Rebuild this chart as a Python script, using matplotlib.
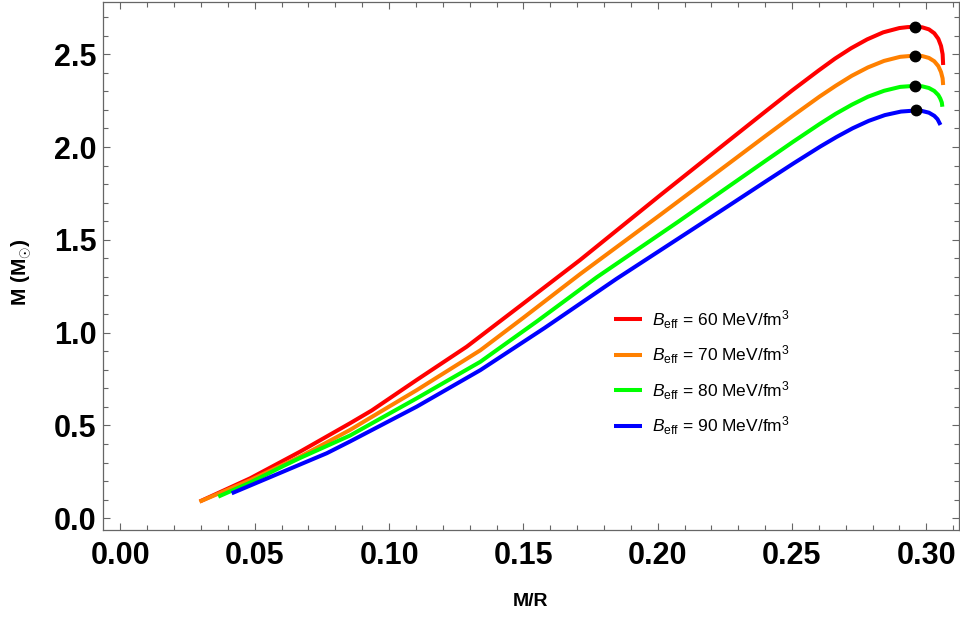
import matplotlib
matplotlib.use("Agg")
import matplotlib.pyplot as plt
from matplotlib.ticker import MultipleLocator, FormatStrFormatter

plt.rcParams['font.family'] = ['Liberation Sans', 'DejaVu Sans']
plt.rcParams['mathtext.fontset'] = 'custom'
plt.rcParams['mathtext.rm'] = 'Liberation Sans'
plt.rcParams['mathtext.it'] = 'Liberation Sans:italic'
plt.rcParams['mathtext.bf'] = 'Liberation Sans:bold'

# Datos (compacidad M/R, masa M)
c60 = [0.0295, 0.0483, 0.0668, 0.0854, 0.0935, 0.1103, 0.1289, 0.1500, 0.1711, 0.2011,
       0.2260, 0.2400, 0.2500, 0.2600, 0.2660, 0.2720, 0.2780, 0.2840, 0.2900, 0.2930, 0.2957,
       0.2985, 0.3010, 0.3030, 0.3045, 0.3055, 0.3061, 0.3063]
m60 = [0.090, 0.215, 0.358, 0.511, 0.580, 0.745, 0.924, 1.157, 1.391, 1.742,
       2.029, 2.190, 2.304, 2.413, 2.476, 2.532, 2.580, 2.618, 2.641, 2.646, 2.648,
       2.645, 2.634, 2.613, 2.583, 2.545, 2.500, 2.442]

c70 = [0.0294, 0.0483, 0.0668, 0.0854, 0.0929, 0.1103, 0.1340, 0.1500, 0.1711, 0.2011,
       0.2263, 0.2403, 0.2503, 0.2603, 0.2663, 0.2723, 0.2783, 0.2843, 0.2903, 0.2960,
       0.2985, 0.3010, 0.3030, 0.3045, 0.3055, 0.3061, 0.3063]
m70 = [0.089, 0.205, 0.331, 0.475, 0.540, 0.690, 0.905, 1.080, 1.315, 1.636,
       1.909, 2.061, 2.168, 2.272, 2.330, 2.384, 2.429, 2.464, 2.486, 2.493,
       2.490, 2.480, 2.462, 2.436, 2.404, 2.370, 2.334]

c80 = [0.0364, 0.0483, 0.0606, 0.0668, 0.0854, 0.1103, 0.1340, 0.1550, 0.1773, 0.2076,
       0.2263, 0.2403, 0.2503, 0.2603, 0.2663, 0.2723, 0.2783, 0.2843, 0.2903, 0.2960,
       0.2985, 0.3010, 0.3030, 0.3045, 0.3052, 0.3058, 0.3060]
m80 = [0.116, 0.192, 0.281, 0.324, 0.445, 0.646, 0.843, 1.060, 1.298, 1.597,
       1.786, 1.927, 2.027, 2.124, 2.179, 2.228, 2.271, 2.303, 2.324, 2.330,
       2.327, 2.318, 2.302, 2.280, 2.262, 2.240, 2.217]

c90 = [0.0414, 0.0483, 0.0606, 0.0668, 0.0768, 0.0854, 0.1103, 0.1340, 0.1580, 0.1847,
       0.2176, 0.2266, 0.2406, 0.2506, 0.2606, 0.2666, 0.2726, 0.2786, 0.2846, 0.2906, 0.2963,
       0.2985, 0.3010, 0.3030, 0.3042, 0.3053]
m90 = [0.134, 0.176, 0.251, 0.289, 0.350, 0.413, 0.601, 0.798, 1.026, 1.290,
       1.600, 1.685, 1.818, 1.912, 2.003, 2.054, 2.101, 2.141, 2.172, 2.191, 2.197,
       2.194, 2.185, 2.168, 2.150, 2.119]

# Maximos (puntos negros)
cmax = [0.2957, 0.2960, 0.2960, 0.2963]
mmax = [2.648, 2.493, 2.330, 2.197]

etiquetas = [r"$B_{\mathrm{eff}}$ = 60 MeV/fm$^3$", r"$B_{\mathrm{eff}}$ = 70 MeV/fm$^3$",
             r"$B_{\mathrm{eff}}$ = 80 MeV/fm$^3$", r"$B_{\mathrm{eff}}$ = 90 MeV/fm$^3$"]
colores = ["#ff0000", "#ff8000", "#00ff00", "#0000ff"]

fig = plt.figure(figsize=(9.6, 6.23), dpi=100)
ax = fig.add_axes([103.3 / 960, 1 - 530 / 623, (959 - 103.3) / 960, (530 - 1.7) / 623])

for c, m, col, lab in zip([c60, c70, c80, c90], [m60, m70, m80, m90], colores, etiquetas):
    ax.plot(c, m, color=col, lw=2.9, label=lab, solid_capstyle='butt', solid_joinstyle='round')

ax.plot(cmax, mmax, 'o', color='black', ms=7.5, zorder=5)

ax.set_xlim(-0.0064, 0.3122)
ax.set_ylim(-0.0636, 2.783)

# Ticks estilo Mathematica
ax.xaxis.set_major_locator(MultipleLocator(0.05))
ax.xaxis.set_minor_locator(MultipleLocator(0.01))
ax.yaxis.set_major_locator(MultipleLocator(0.5))
ax.yaxis.set_minor_locator(MultipleLocator(0.1))
ax.xaxis.set_major_formatter(FormatStrFormatter('%.2f'))
ax.yaxis.set_major_formatter(FormatStrFormatter('%.1f'))
ax.tick_params(which='both', direction='in', top=True, right=True, color='#666666', width=0.8)
ax.tick_params(which='major', length=4.8, labelsize=22)
ax.tick_params(axis='x', which='major', pad=8)
ax.tick_params(axis='y', which='major', pad=5)
ax.tick_params(which='minor', length=3.3)
for lbl in ax.get_xticklabels() + ax.get_yticklabels():
    lbl.set_fontweight('bold')
for s in ax.spines.values():
    s.set_color('#666666')
    s.set_linewidth(0.9)

fig.text(531 / 960, 1 - 601 / 623, "M/R", fontsize=14, fontweight='bold', ha='center', va='center')
fig.text(22 / 960, 1 - 272 / 623, r"M (M$_{\odot}$)", fontsize=15, fontweight='bold',
         rotation=90, ha='center', va='center')

leg = ax.legend(loc='upper left', bbox_to_anchor=(614 / 960, 1 - 308 / 623),
                bbox_transform=fig.transFigure, frameon=False, fontsize=12.5,
                handlelength=1.6, handletextpad=0.6, labelspacing=0.75, borderpad=0,
                borderaxespad=0)

fig.savefig("out.png", dpi=100)
